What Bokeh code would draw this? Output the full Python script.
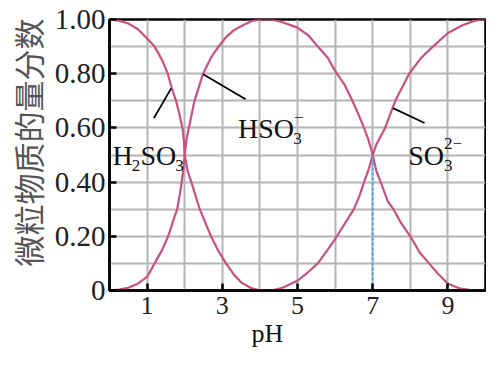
import math
from bokeh.plotting import figure
from bokeh.models import Range1d, FixedTicker, Label, Title
from bokeh.embed import file_html
from bokeh.resources import INLINE

# ---- data ----
h2so3_ph = [0.0, 0.25, 0.5, 0.75, 1.0, 1.2, 1.4, 1.55, 1.65, 1.77, 1.86, 1.94, 1.98, 2.0,
            2.08, 2.2, 2.4, 2.7, 2.9, 3.1, 3.3, 3.5, 3.75, 4.0]
h2so3_v = [1.00, 0.996, 0.985, 0.965, 0.93, 0.90, 0.85, 0.80, 0.75, 0.70, 0.65, 0.60, 0.55, 0.50,
           0.44, 0.39, 0.30, 0.20, 0.145, 0.10, 0.06, 0.03, 0.01, 0.0]

hso3_ph = [0.0, 0.25, 0.5, 0.75, 1.0, 1.2, 1.4, 1.56, 1.7, 1.8, 1.9, 1.96, 2.0,
           2.05, 2.14, 2.26, 2.49, 2.7, 2.9, 3.1, 3.3, 3.56, 3.8, 4.0, 4.3,
           4.6, 5.0, 5.3, 5.54, 5.8, 6.0, 6.25, 6.46, 6.62, 6.77, 6.9, 7.0,
           7.1, 7.24, 7.4, 7.55, 7.75, 8.0, 8.25, 8.5, 8.75, 9.0, 9.3, 9.7, 10.0]
hso3_v = [0.0, 0.003, 0.01, 0.025, 0.05, 0.10, 0.15, 0.20, 0.26, 0.30, 0.38, 0.44, 0.50,
          0.56, 0.62, 0.70, 0.80, 0.86, 0.90, 0.935, 0.96, 0.98, 0.995, 1.0, 1.0,
          0.99, 0.97, 0.94, 0.90, 0.86, 0.81, 0.76, 0.70, 0.65, 0.60, 0.55, 0.50,
          0.44, 0.39, 0.33, 0.30, 0.25, 0.20, 0.14, 0.10, 0.06, 0.025, 0.008, 0.0, 0.0]

so3_ph = [4.0, 4.3, 4.6, 5.0, 5.3, 5.54, 5.8, 6.0, 6.25, 6.5, 6.65, 6.77, 6.9, 7.0,
          7.1, 7.33, 7.6, 7.97, 8.3, 8.6, 9.0, 9.4, 9.7, 9.9, 10.0]
so3_v = [0.0, 0.0, 0.01, 0.036, 0.07, 0.10, 0.15, 0.19, 0.245, 0.30, 0.35, 0.40, 0.45, 0.50,
         0.54, 0.60, 0.70, 0.80, 0.86, 0.90, 0.95, 0.98, 0.995, 1.0, 1.0]

# dashed marker at the second crossing
cross_ph = [7.0]
cross_v = [0.5]

# leader lines (pH0, v0, pH1, v1)
lead_x0 = [1.18, 2.49, 7.54]
lead_y0 = [0.636, 0.798, 0.673]
lead_x1 = [1.64, 3.62, 8.38]
lead_y1 = [0.746, 0.706, 0.618]

x_ticks = [1, 3, 5, 7, 9]
y_ticks = [0, 0.2, 0.4, 0.6, 0.8, 1.0]
y_tick_labels = ["0", "0.20", "0.40", "0.60", "0.80", "1.00"]
x_grid = [1, 2, 3, 4, 5, 6, 7, 8, 9]
y_grid = [0.1, 0.2, 0.3, 0.4, 0.5, 0.6, 0.7, 0.8, 0.9]

x_title = "pH"
y_title = "微粒物质的量分数"

SERIF = "Liberation Serif"
CURVE = "#c9507f"

p = figure(width=486, height=351, output_backend="svg", toolbar_location=None,
           x_range=Range1d(0, 10), y_range=Range1d(0, 1.0),
           min_border_left=101, min_border_right=1, min_border_top=19,
           min_border_bottom=61)
p.background_fill_color = "white"
p.border_fill_color = "white"
p.outline_line_color = "black"
p.outline_line_width = 2.5

# grid
p.xgrid.ticker = FixedTicker(ticks=x_grid)
p.ygrid.ticker = FixedTicker(ticks=y_grid)
for g in (p.xgrid, p.ygrid):
    g.grid_line_color = "#b4b4b4"
    g.grid_line_width = 2

# axes
p.xaxis.ticker = FixedTicker(ticks=x_ticks)
p.yaxis.ticker = FixedTicker(ticks=y_ticks)
p.yaxis.major_label_overrides = {t: l for t, l in zip(y_ticks, y_tick_labels)}
for ax in (p.xaxis, p.yaxis):
    ax.axis_line_color = "black"
    ax.axis_line_width = 2.5
    ax.major_tick_line_color = "black"
    ax.major_tick_line_width = 2.5
    ax.major_tick_in = 7
    ax.major_tick_out = 0
    ax.minor_tick_line_color = None
    ax.major_label_text_font = SERIF
    ax.major_label_text_color = "#222222"
p.xaxis.major_label_text_font_size = "26px"
p.yaxis.major_label_text_font_size = "29px"
p.xaxis.major_label_standoff = 6
p.yaxis.major_label_standoff = 4

# axis titles as side titles (not clipped by the frame)
p.add_layout(Title(text=x_title, align="left", offset=142, standoff=0,
                   text_font=SERIF, text_font_size="26px",
                   text_font_style="normal", text_color="#111111"), "below")
p.add_layout(Title(text=y_title, align="left", offset=24, standoff=4,
                   text_font="Noto Sans CJK SC", text_font_size="31px",
                   text_font_style="normal", text_color="#555555"), "left")

# curves
p.line(h2so3_ph, h2so3_v, line_color=CURVE, line_width=2.2)
p.line(hso3_ph, hso3_v, line_color=CURVE, line_width=2.2)
p.line(so3_ph, so3_v, line_color=CURVE, line_width=2.2)

# dashed vertical marker
p.segment(x0=cross_ph, y0=[0] * len(cross_ph), x1=cross_ph, y1=cross_v,
          line_color="#45a6e0", line_width=2, line_dash="3 2")

# leader lines
p.segment(x0=lead_x0, y0=lead_y0, x1=lead_x1, y1=lead_y1,
          line_color="black", line_width=1.8)

# positions given in reference pixels -> data coords
def to_data(px, py):
    return (px - 111) / 38.9, (300 - py) / 272.0

def put(text, px, py, size, font=SERIF, color="#111111", **kw):
    x, y = to_data(px, py)
    p.add_layout(Label(x=x, y=y, text=text, text_font=font,
                       text_font_size=f"{size}px", text_color=color,
                       text_baseline=kw.pop("baseline", "alphabetic"),
                       text_align=kw.pop("align", "left"), **kw))

# H2SO3
put("H", 114, 165, 28)
put("2", 134, 175, 17)
put("SO", 143, 165, 28)
put("3", 179, 175, 17)
# HSO3-
put("HSO", 244, 137, 28)
put("3", 301, 147, 17)
put("\u2212", 302, 126, 17)
# SO3 2-
put("SO", 420, 165, 28)
put("3", 457, 175, 17)
put("2\u2212", 457, 152, 17)

open("out.html", "w").write(file_html(p, INLINE))
